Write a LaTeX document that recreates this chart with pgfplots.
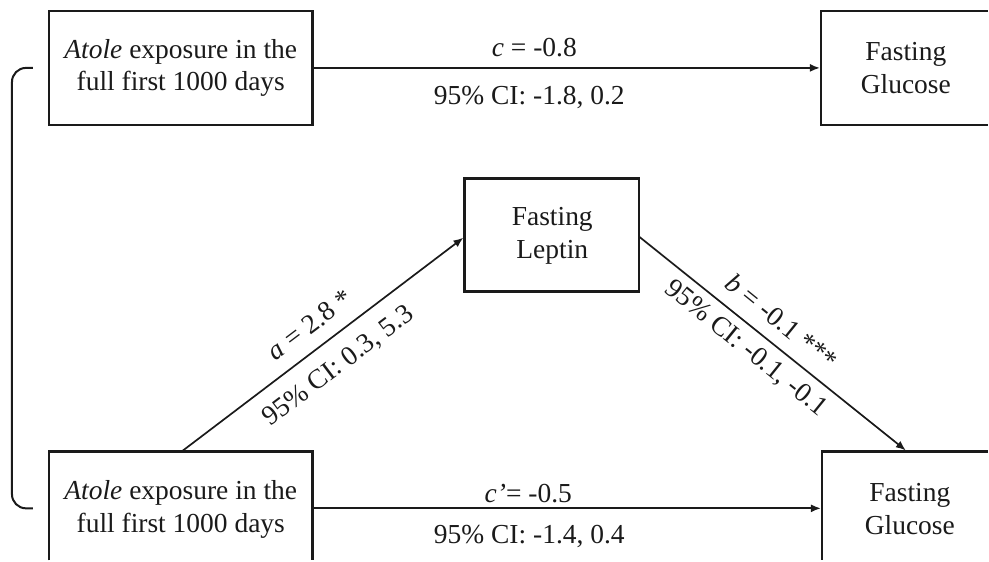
\documentclass[border=0pt]{standalone}
\usepackage{fontspec}
\setmainfont{Liberation Serif}
\usepackage{pgfplots}
\pgfplotsset{compat=1.18}
\usetikzlibrary{arrows.meta}
\definecolor{ink}{HTML}{1A1A1A}
\tikzset{lbl/.style={font=\fontsize{13.8}{16.5}\selectfont,text=ink,align=center,inner sep=0pt}}
\begin{document}
\begin{tikzpicture}
\begin{axis}[width=494.5bp,height=280.5bp,scale only axis,hide axis,
  xmin=0,xmax=989,ymin=0,ymax=561,y dir=reverse,clip=false]
% invisible frame to fix the bounding box
\addplot[draw=none] coordinates {(0,0)(989,0)(989,561)(0,561)};
% boxes
\addplot[ink,line width=1.3bp] coordinates {(49,11)(313,11)(313,125)(49,125)(49,11)(313,11)};
\addplot[ink,line width=1.3bp] coordinates {(989,11)(822,11)(822,125)(989,125)};
\addplot[ink,line width=1.3bp] coordinates {(465,179)(640,179)(640,292)(465,292)(465,179)(640,179)};
\addplot[ink,line width=1.3bp] coordinates {(49,561)(49,452)(313,452)(313,561)};
\addplot[ink,line width=1.3bp] coordinates {(989,452)(823,452)(823,561)};
% bracket
\addplot[ink,line width=1bp,rounded corners=7bp] coordinates {(33,68)(12,68)(12,509)(33,509)};
% arrows
\addplot[ink,line width=0.85bp,-{Latex[length=5bp,width=4bp]}] coordinates {(313,68)(821,68)};
\addplot[ink,line width=0.85bp,-{Latex[length=5bp,width=4bp]}] coordinates {(313,509)(822,509)};
\addplot[ink,line width=0.85bp,-{Latex[length=5bp,width=4bp]}] coordinates {(182,452)(464,238)};
\addplot[ink,line width=0.85bp,-{Latex[length=5bp,width=4bp]}] coordinates {(640,237)(907,451)};
% box texts
\node[lbl] at (181,68) {\textit{Atole} exposure in the\\full first 1000 days};
\node[lbl] at (907,68) {Fasting\\Glucose};
\node[lbl] at (553,236) {Fasting\\Leptin};
\node[lbl] at (181,510) {\textit{Atole} exposure in the\\full first 1000 days};
\node[lbl] at (911,510) {Fasting\\Glucose};
% path labels
\node[lbl] at (535,48) {\textit{c} = -0.8};
\node[lbl] at (530,98) {95\% CI: -1.8, 0.2};
\node[lbl] at (529,494) {\textit{c’}= -0.5};
\node[lbl] at (530,537) {95\% CI: -1.4, 0.4};
\node[lbl,rotate=37] at (310,325) {\textit{a} = 2.8 *};
\node[lbl,rotate=37] at (339,367) {95\% CI: 0.3, 5.3};
\node[lbl,rotate=-39] at (783,322) {\textit{b} = -0.1 ***};
\node[lbl,rotate=-39] at (747,349) {95\% CI: -0.1, -0.1};
\end{axis}
\end{tikzpicture}
\end{document}
